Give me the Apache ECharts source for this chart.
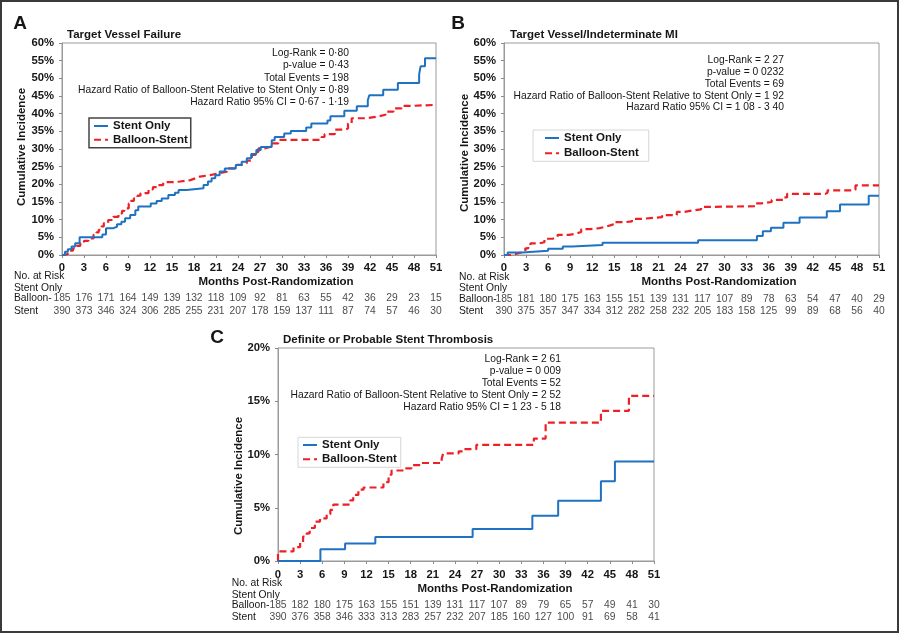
<!DOCTYPE html>
<html><head><meta charset="utf-8">
<script src="https://cdn.jsdelivr.net/npm/echarts@6/dist/echarts.min.js"></script>
<style>html,body{margin:0;padding:0;background:#fff}#c{width:900px;height:635px}</style>
</head><body><div id="c"></div>
<script>
// ---------- DATA ----------
const seriesNames = ['Stent Only', 'Balloon-Stent'];
const panelTitles = ['Target Vessel Failure', 'Target Vessel/Indeterminate MI', 'Definite or Probable Stent Thrombosis'];
const panelLetters = ['A', 'B', 'C'];
const xTitle = 'Months Post-Randomization';
const yTitle = 'Cumulative Incidence';
const riskMonths = [0,3,6,9,12,15,18,21,24,27,30,33,36,39,42,45,48,51];
const riskRowLabels = ['No. at Risk', 'Stent Only', 'Balloon-', 'Stent'];

// Panel A: Target Vessel Failure (months, cumulative %)
const aStent = [[0,0],[0.4,0.9],[0.8,1.6],[1.3,2.4],[1.8,3.3],[2.4,5.0],[5.5,5.8],[6.0,7.6],[7.0,8.0],[7.5,8.7],[8.1,9.4],[8.6,10.4],[9.3,11.3],[10,12.7],[10.4,13.7],[12.1,14.6],[12.9,15.3],[13.6,16.0],[14.5,17.0],[15.4,17.6],[15.9,18.4],[17,18.9],[19.3,19.8],[19.9,20.8],[20.4,21.7],[20.9,22.6],[21.5,23.6],[22.2,24.5],[23.7,25.5],[24.5,26.4],[25.2,27.4],[25.8,28.6],[26.5,29.7],[27.1,30.6],[28.6,32.5],[29.0,33.4],[30.3,34.4],[31.2,35.1],[33.3,36.1],[34,37.2],[36.2,38.1],[36.6,39.3],[38.5,40.8],[40.2,42.1],[41.7,43.8],[41.9,45.2],[43.8,46.8],[45.8,48.7],[48.7,51.1],[48.9,53.4],[49.5,55.7],[51,55.7]];
const aBalloon = [[0,0],[0.4,0.5],[1.0,1.2],[1.5,1.9],[2.0,2.6],[2.5,3.3],[3.0,4.0],[3.6,4.7],[4.3,5.7],[4.7,6.4],[5.0,7.1],[5.4,8.1],[5.7,9.0],[6.3,9.9],[7.0,10.8],[7.7,11.8],[8.2,12.5],[8.5,13.2],[9.1,14.6],[9.4,15.3],[9.8,16.0],[10.3,16.8],[10.7,17.5],[11.8,18.6],[12.4,19.2],[12.9,19.8],[13.8,20.6],[15.2,20.8],[16.1,21.2],[17.5,21.7],[18.2,22.2],[18.8,22.6],[20.2,23.1],[21.3,23.6],[22.5,24.5],[23.8,25.5],[24.7,26.0],[25.2,26.7],[25.9,28.3],[26.4,29.2],[26.8,30.2],[27.7,30.7],[28.6,31.6],[29.5,32.6],[35.4,33.4],[35.8,34.2],[37.2,35.5],[38.6,35.8],[39.0,37.2],[39.5,38.7],[41.5,39.2],[43.1,39.7],[44.1,40.6],[45.2,41.5],[46.3,42.2],[47.7,42.5],[51,42.5]];
const aRiskBalloon = [185,176,171,164,149,139,132,118,109,92,81,63,55,42,36,29,23,15];
const aRiskStent = [390,373,346,324,306,285,255,231,207,178,159,137,111,87,74,57,46,30];
const aStats = ['Log-Rank = 0·80', 'p-value = 0·43', 'Total Events = 198', 'Hazard Ratio of Balloon-Stent Relative to Stent Only = 0·89', 'Hazard Ratio 95% CI = 0·67 - 1·19'];

// Panel B: Target Vessel/Indeterminate MI
const bStent = [[0,0],[0.5,0.7],[2.5,1.2],[6,1.8],[8,2.4],[9.3,2.8],[13.4,3.5],[26.4,4.2],[34.4,5.4],[35.2,6.7],[36.3,7.7],[38,9.1],[40.2,10.6],[43.9,12.4],[45.7,14.3],[49.6,16.8],[51,16.8]];
const bBalloon = [[0,0],[0.8,0.3],[1.6,0.7],[2.3,1.1],[2.9,1.9],[3.3,2.7],[3.6,3.3],[4.8,3.6],[5.5,4.6],[6.6,5.1],[7.3,5.7],[8.8,6.0],[9.7,6.5],[10.5,7.3],[11.7,7.6],[13,8.1],[14.0,8.6],[14.8,9.3],[16.5,9.5],[17.4,10.2],[18.5,10.7],[21.5,11.3],[23.5,12.2],[24.5,12.5],[25.3,12.9],[26.8,13.6],[27.2,13.8],[34.2,14.6],[35,15.0],[36.4,15.6],[38.1,16.3],[38.5,17.3],[43.7,17.6],[44.0,18.3],[47.5,18.5],[47.8,19.7],[51,19.7]];
const bRiskBalloon = [185,181,180,175,163,155,151,139,131,117,107,89,78,63,54,47,40,29];
const bRiskStent = [390,375,357,347,334,312,282,258,232,205,183,158,125,99,89,68,56,40];
const bStats = ['Log-Rank = 2 27', 'p-value = 0 0232', 'Total Events = 69', 'Hazard Ratio of Balloon-Stent Relative to Stent Only = 1 92', 'Hazard Ratio 95% CI = 1 08 - 3 40'];

// Panel C: Definite or Probable Stent Thrombosis
const cStent = [[0,0],[5.75,1.1],[9.1,1.65],[13.2,2.25],[26.4,3.0],[34.5,4.25],[38,5.65],[43.8,7.5],[45.7,9.35],[51,9.35]];
const cBalloon = [[0,0],[0,0.9],[2.1,1.3],[3.0,1.7],[3.4,2.3],[3.9,2.6],[4.3,3.1],[5.0,3.7],[5.7,4.0],[6.6,4.4],[7.1,4.8],[7.5,5.3],[9.8,5.7],[10.2,6.2],[10.9,6.7],[11.6,6.9],[14.3,7.4],[15.0,8.1],[15.4,8.5],[17.2,8.7],[18.1,9.0],[19.5,9.2],[22.2,9.6],[22.4,10.1],[24.5,10.3],[25.1,10.5],[26.9,10.9],[34.7,11.5],[36.3,13.0],[43.8,14.1],[47.6,15.5],[51,15.5]];
const cRiskBalloon = [185,182,180,175,163,155,151,139,131,117,107,89,79,65,57,49,41,30];
const cRiskStent = [390,376,358,346,333,313,283,257,232,207,185,160,127,100,91,69,58,41];
const cStats = ['Log-Rank = 2 61', 'p-value = 0 009', 'Total Events = 52', 'Hazard Ratio of Balloon-Stent Relative to Stent Only = 2 52', 'Hazard Ratio 95% CI = 1 23 - 5 18'];

// ---------- STYLE / LAYOUT ----------
const FF = '"Liberation Sans", Arial, sans-serif';
const BLUE = '#1f72c1', RED = '#ee2027', TXT = '#161616';
const panels = [
  {stent:aStent, balloon:aBalloon, rb:aRiskBalloon, rs:aRiskStent, stats:aStats, ymax:60,
   grid:{left:62, top:43, width:374, height:212}, risk:{top:292.1, height:24.8},
   legend:{left:89, top:118, padding:[2,3,2,4], gap:1.7, border:'#444', bw:1.5},
   letter:[20,24], title:[67,35], statsX:349, statsY:[52.7,65.3,77.7,90,102.3],
   yName:[22,147], xName:[276,282], rowX:14, rowY:[276,288.3,298.3,310.7], xLabelMargin:7},
  {stent:bStent, balloon:bBalloon, rb:bRiskBalloon, rs:bRiskStent, stats:bStats, ymax:60,
   grid:{left:504, top:43, width:375, height:212}, risk:{top:293.2, height:23.4},
   legend:{left:533, top:130, padding:[2,10,2,11], gap:3.3, border:'#d6d6d6', bw:1},
   letter:[458,24], title:[510,35], statsX:784, statsY:[60,72,83.7,95.7,107.3],
   yName:[465,153], xName:[719,282], rowX:459, rowY:[277,288.3,299,310.7], xLabelMargin:7},
  {stent:cStent, balloon:cBalloon, rb:cRiskBalloon, rs:cRiskStent, stats:cStats, ymax:20,
   grid:{left:278, top:348, width:376, height:213}, risk:{top:599.6, height:22.8},
   legend:{left:298, top:437.3, padding:[1.7,4,2,4], gap:2.3, border:'#d6d6d6', bw:1},
   letter:[217,338], title:[283,340], statsX:561, statsY:[359.3,371,383,395,406.7],
   yName:[239,476], xName:[495,589], rowX:231.7, rowY:[582.7,594.7,605.3,616.7], xLabelMargin:8}
];

const grid = [], xAxis = [], yAxis = [], series = [], legend = [], graphic = [];
panels.forEach((p, i) => {
  grid.push(Object.assign({show:true, borderColor:'#9a9a9a', borderWidth:1, backgroundColor:'transparent'}, p.grid));
});
panels.forEach((p, i) => {
  grid.push({left:p.grid.left, width:p.grid.width, top:p.risk.top, height:p.risk.height});
});
// main axes (0..2), inner tick axes (3..5), risk axes (6..8)
panels.forEach((p, i) => {
  xAxis.push({gridIndex:i, type:'value', min:0, max:51, interval:3,
    axisLine:{lineStyle:{color:'#9a9a9a', width:1}},
    axisTick:{length:3, lineStyle:{color:'#8a8a8a'}},
    axisLabel:{fontWeight:'bold', fontSize:11.3, color:TXT, fontFamily:FF, margin:p.xLabelMargin},
    splitLine:{show:false}});
  yAxis.push({gridIndex:i, type:'value', min:0, max:p.ymax, interval:5,
    axisLine:{show:true, lineStyle:{color:'#9a9a9a', width:1}},
    axisTick:{show:true, length:3, lineStyle:{color:'#8a8a8a'}},
    axisLabel:{fontWeight:'bold', fontSize:11.3, color:TXT, fontFamily:FF, margin:8, formatter:'{value}%'},
    splitLine:{show:false}});
});
panels.forEach((p, i) => {
  xAxis.push({gridIndex:i, type:'value', min:0, max:51, interval:3, axisLine:{show:false},
    axisTick:{inside:true, length:3, lineStyle:{color:'#8a8a8a'}}, axisLabel:{show:false}, splitLine:{show:false}});
  yAxis.push({gridIndex:i, type:'value', min:0, max:p.ymax, interval:5, axisLine:{show:false},
    axisTick:{show:true, inside:true, length:3, lineStyle:{color:'#8a8a8a'}}, axisLabel:{show:false}, splitLine:{show:false}});
});
panels.forEach((p, i) => {
  xAxis.push({gridIndex:3+i, type:'value', min:0, max:51, show:false});
  yAxis.push({gridIndex:3+i, type:'category', data:['Balloon','Stent'], inverse:true, show:false});
});

panels.forEach((p, i) => {
  series.push({type:'line', name:seriesNames[0], xAxisIndex:i, yAxisIndex:i, step:'end', symbol:'none',
    data:p.stent, lineStyle:{color:BLUE, width:2}, itemStyle:{color:BLUE}, z:4, animation:false});
  series.push({type:'line', name:seriesNames[1], xAxisIndex:i, yAxisIndex:i, step:'end', symbol:'none',
    data:p.balloon, lineStyle:{color:RED, width:2.2, type:[7,4]}, itemStyle:{color:RED}, z:3, animation:false});
  const rows = [['Balloon', p.rb], ['Stent', p.rs]];
  rows.forEach(([row, vals]) => {
    series.push({type:'scatter', xAxisIndex:6+i, yAxisIndex:6+i, symbolSize:1, silent:true, animation:false,
      itemStyle:{color:'rgba(0,0,0,0)'},
      label:{show:true, position:'inside', fontSize:10.3, color:TXT, fontFamily:FF, formatter:q => q.data.n},
      data:riskMonths.map((m, k) => ({value:[m, row], n:vals[k]}))});
  });
  const L = p.legend;
  legend.push({data:seriesNames, orient:'vertical', left:L.left, top:L.top, padding:L.padding, itemGap:L.gap,
    itemWidth:14, itemHeight:12, borderColor:L.border, borderWidth:L.bw, backgroundColor:'#fff',
    itemStyle:{color:'rgba(0,0,0,0)', borderColor:'rgba(0,0,0,0)', borderWidth:0, opacity:0},
    selectedMode:false, textStyle:{fontWeight:'bold', fontSize:11.5, color:TXT, fontFamily:FF}});

  const txt = (t, x, y, font, align, extra) => Object.assign({type:'text', silent:true, z:10,
    style:{text:t, x:x, y:y, font:font, fill:TXT, textAlign:align, align:align, textVerticalAlign:'middle', verticalAlign:'middle'}}, extra || {});
  graphic.push(txt(panelLetters[i], p.letter[0], p.letter[1], 'bold 19px ' + FF, 'center'));
  graphic.push(txt(panelTitles[i], p.title[0], p.title[1], 'bold 11.5px ' + FF, 'left'));
  p.stats.forEach((s, k) => graphic.push(txt(s, p.statsX, p.statsY[k], '10.3px ' + FF, 'right')));
  graphic.push({type:'text', silent:true, z:10, x:p.yName[0], y:p.yName[1], rotation:Math.PI/2,
    style:{text:yTitle, x:0, y:0, font:'bold 11.5px ' + FF, fill:TXT, textAlign:'center', align:'center', textVerticalAlign:'middle', verticalAlign:'middle'}});
  graphic.push(txt(xTitle, p.xName[0], p.xName[1], 'bold 11.5px ' + FF, 'center'));
  riskRowLabels.forEach((r, k) => graphic.push(txt(r, p.rowX, p.rowY[k], '10.3px ' + FF, 'left')));
});
graphic.push({type:'rect', silent:true, z:20, shape:{x:1, y:1, width:897, height:631},
  style:{fill:'none', stroke:'#3a3a3a', lineWidth:2}});

const chart = echarts.init(document.getElementById('c'), null, {renderer:'canvas'});
chart.setOption({animation:false, backgroundColor:'#fff', grid, xAxis, yAxis, series, legend, graphic});
</script></body></html>
